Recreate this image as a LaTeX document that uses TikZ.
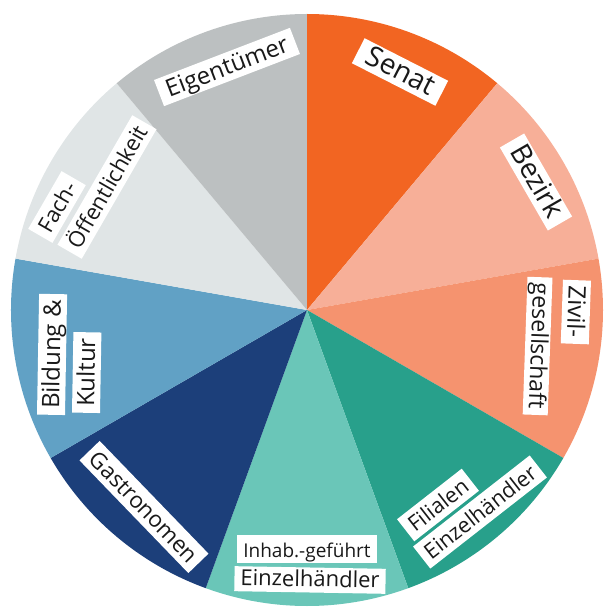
\documentclass[tikz,border=0pt]{standalone}
\usepackage{fontspec}
\setmainfont{Open Sans}
\definecolor{senat}{HTML}{F26522}
\definecolor{bezirk}{HTML}{F7AF98}
\definecolor{zivil}{HTML}{F5936F}
\definecolor{filialen}{HTML}{28A08B}
\definecolor{inhab}{HTML}{6AC6B8}
\definecolor{gastro}{HTML}{1C3F7A}
\definecolor{bildung}{HTML}{61A1C5}
\definecolor{fach}{HTML}{E0E5E6}
\definecolor{eigen}{HTML}{BCC0C1}
\begin{document}
\begin{tikzpicture}[x=1pt,y=1pt,line join=round,
	schild/.style={fill=white,text=black!90,inner xsep=6pt,inner ysep=2pt,
		text height=20pt,text depth=4pt,font=\fontsize{#1}{#1}\selectfont},
	schild/.default=22]
		\def\r{296}
		\useasboundingbox (-307,-298) rectangle (296,310);
		\foreach \a/\c in {90/senat,50/bezirk,10/zivil,-30/filialen,-70/inhab,-110/gastro,-150/bildung,-190/fach,130/eigen}
			\fill[\c] (0,0) -- (\a:\r) arc[start angle=\a,end angle=\a-40,radius=\r] -- cycle;
		\node[schild=28,inner xsep=10pt,rotate=-27] (senat) at (93,238) {Senat};
		\node[schild=28,inner xsep=8pt,rotate=-60] (bezirk) at (229,128) {Bezirk};
		\node[schild=24,rotate=-92,anchor=west] (zivil) at (270,30) {Zivil-};
		\node[schild=23,rotate=-92,anchor=west,text height=17pt] (gesell) at (233,33) {gesellschaft};
		\node[schild=21.5,rotate=38] (filialen) at (131,-195) {Filialen};
		\node[schild=21.5,rotate=38] (einzelF) at (173,-202) {Einzelhändler};
		\node[schild=19] (inhab) at (0,-239) {Inhab.-geführt};
		\node[schild=22,rotate=-1,text height=17pt] (einzelI) at (3,-270) {Einzelhändler};
		\node[schild=22.5,rotate=-46] (gastro) at (-163,-197) {Gastronomen};
		\node[schild=24,rotate=89,anchor=west] (bildung) at (-256,-105) {Bildung \&};
		\node[schild=24,rotate=89,anchor=west] (kultur) at (-221,-103) {Kultur};
		\node[schild=22,rotate=60] (fach) at (-250,103) {Fach-};
		\node[schild=22,rotate=60] (oeff) at (-200,123) {Öffentlichkeit};
		\node[schild=24,inner xsep=8pt,rotate=21] (eigen) at (-80,243) {Eigentümer};
	\end{tikzpicture}
\end{document}
